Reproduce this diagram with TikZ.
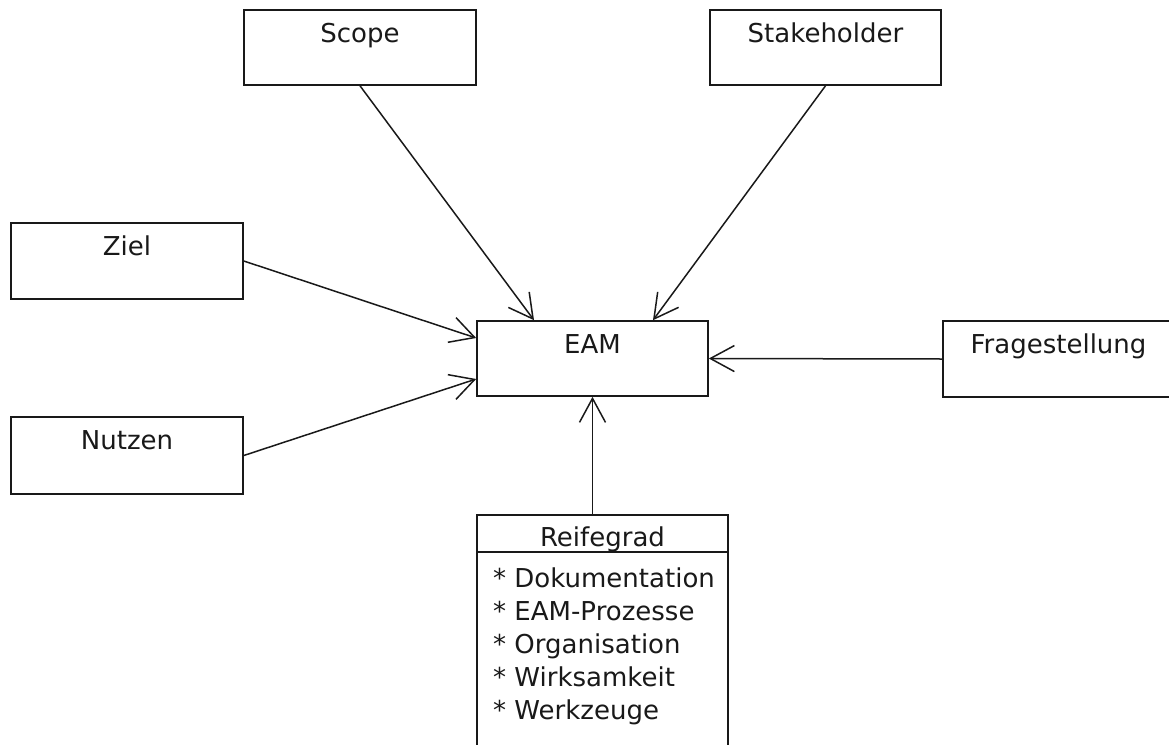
\documentclass[tikz,border=0pt]{standalone}
\usepackage{fontspec}
\setmainfont{DejaVu Sans}
\usetikzlibrary{arrows.meta}
\begin{document}
\begin{tikzpicture}[x=1pt,y=-1pt,
  box/.style={draw=black!90, line width=1.6pt, rectangle, inner sep=0pt,
    minimum width=231pt, minimum height=75pt},
  lbl/.style={anchor=base, inner sep=0pt, text=black!90,
    font=\fontsize{26}{33}\selectfont},
  item/.style={anchor=base west, inner sep=0pt, text=black!90,
    font=\fontsize{26}{33}\selectfont},
  link/.style={draw=black!90, line width=1.5pt,
    -{Straight Barb[length=24pt,width=26pt,line width=1.5pt]}}]
\useasboundingbox (0,0) rectangle (1169,744);
\clip (0,0) rectangle (1169,744);

% central element
\node[box] (eam) at (592.5,358.5) {};
\node[lbl] (eamt) at ([yshift=-33pt]eam.north) {EAM};

% surrounding factors
\node[box, minimum width=232pt] (scope) at (360,47.5) {};
\node[lbl] (scopet) at ([yshift=-33pt]scope.north) {Scope};

\node[box] (stake) at (825.5,47.5) {};
\node[lbl] (staket) at ([yshift=-33pt]stake.north) {Stakeholder};

\node[box, minimum width=232pt, minimum height=76pt] (ziel) at (127,261) {};
\node[lbl] (zielt) at ([yshift=-33pt]ziel.north) {Ziel};

\node[box, minimum width=232pt, minimum height=77pt] (nutzen) at (127,455.5) {};
\node[lbl] (nutzent) at ([yshift=-33pt]nutzen.north) {Nutzen};

\node[box, minimum height=76pt] (frage) at (1058.5,359) {};
\node[lbl] (fraget) at ([yshift=-33pt]frage.north) {Fragestellung};

% maturity class with attribute compartment
\node[box, minimum width=251pt, minimum height=265pt] (reife) at (602.5,647.5) {};
\draw[draw=black!90, line width=1.6pt] ([yshift=-38pt]reife.north west) -- ([yshift=-38pt]reife.north east);
\node[lbl] (reifet) at ([yshift=-32pt]reife.north) {Reifegrad};
\node[item] (i1) at (493,587) {* Dokumentation};
\node[item] (i2) at (493,620) {* EAM-Prozesse};
\node[item] (i3) at (493,653) {* Organisation};
\node[item] (i4) at (493,686) {* Wirksamkeit};
\node[item] (i5) at (493,719) {* Werkzeuge};

% associations
\draw[link] (scope.south) -- ([xshift=-58.5pt]eam.north);
\draw[link] (stake.south) -- ([xshift=60.5pt]eam.north);
\draw[link] (ziel.east) -- ([yshift=20.5pt]eam.west);
\draw[link] (nutzen.east) -- ([yshift=-20.5pt]eam.west);
\draw[link] (frage.west) -- (eam.east);
\draw[link] (eam.south |- reife.north) -- (eam.south);
\end{tikzpicture}
\end{document}
